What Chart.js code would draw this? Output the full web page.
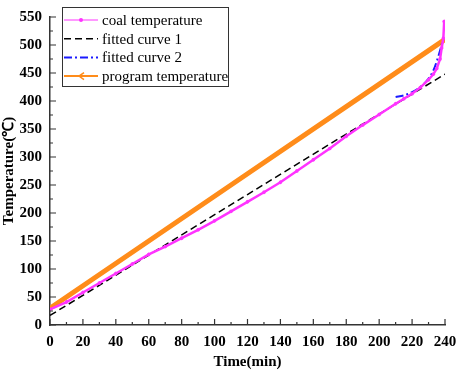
<!DOCTYPE html>
<html lang="en">
  <head>
    <meta charset="UTF-8" />
    <title>Temperature</title>
    <script src="https://cdn.jsdelivr.net/npm/chart.js@4.4.0/dist/chart.umd.min.js"></script>
    <style>
      html, body { margin: 0; padding: 0; background: #fff; }
      .chart-view { width: 457px; height: 371px; }
    </style>
  </head>
  <body>
    <div class="chart-view">
      <canvas id="chart"></canvas>
    </div>

    <script>
      //data
      const coalTime = [0, 10, 20, 30, 40, 50, 60, 70, 80, 90, 100, 110, 120, 130, 140, 150, 160, 170, 180, 190, 200, 210, 215, 220, 225, 230, 233, 235, 237, 238, 239, 239.5];
      const coalTemp = [28, 41, 58, 75, 92, 109, 126, 140, 155, 170, 186, 203, 220, 237, 255, 275, 295, 315, 337, 357, 376, 395, 404, 413, 424, 438, 448, 458, 475, 495, 512, 542];

      const fit1Time = [0, 60, 120, 180, 240];
      const fit1Temp = [17, 125, 233, 341, 448];

      const fit2Time = [210, 215, 220, 225, 230, 233, 235, 237, 238, 239];
      const fit2Temp = [407, 410, 416, 425, 440, 455, 471, 490, 501, 510];

      const progTime = [0, 60, 120, 180, 240];
      const progTemp = [30, 150, 270, 390, 510];

      const xTicks = [0, 20, 40, 60, 80, 100, 120, 140, 160, 180, 200, 220, 240];
      const yTicks = [0, 50, 100, 150, 200, 250, 300, 350, 400, 450, 500, 550];

      const pts = (xs, ys) => xs.map((x, i) => ({ x: x, y: ys[i] }));

      const COLORS = {
        coal: '#ff33ff',
        fit1: '#000000',
        fit2: '#1a1aff',
        prog: '#ff8c1a'
      };

      const serif = '"Liberation Serif", "Times New Roman", serif';

      //inward ticks on both axes
      const innerTicks = {
        id: 'innerTicks',
        afterDraw(chart) {
          const { ctx, scales: { x, y } } = chart;
          ctx.save();
          ctx.strokeStyle = '#333';
          ctx.lineWidth = 1.2;
          ctx.beginPath();
          for (let v = 0; v <= 240; v += 10) {
            const px = x.getPixelForValue(v);
            const len = v % 20 === 0 ? 6 : 3;
            ctx.moveTo(px, y.bottom);
            ctx.lineTo(px, y.bottom - len);
          }
          for (let v = 0; v <= 550; v += 25) {
            const py = y.getPixelForValue(v);
            const len = v % 50 === 0 ? 6 : 3;
            ctx.moveTo(x.left, py);
            ctx.lineTo(x.left + len, py);
          }
          ctx.stroke();
          ctx.restore();
        }
      };

      //legend box in the upper left corner of the plot
      const boxLegend = {
        id: 'boxLegend',
        afterDraw(chart) {
          const { ctx } = chart;
          const left = 62, top = 7, w = 166, h = 79;
          ctx.save();
          ctx.fillStyle = '#fff';
          ctx.fillRect(left, top, w, h);
          ctx.strokeStyle = '#333';
          ctx.lineWidth = 1;
          ctx.strokeRect(left + 0.5, top + 0.5, w, h);
          ctx.font = '15px ' + serif;
          ctx.textBaseline = 'middle';
          chart.data.datasets.forEach((ds, i) => {
            const cy = top + 13 + i * 18.7;
            ctx.strokeStyle = ds.borderColor;
            ctx.lineWidth = ds.legendWidth;
            ctx.setLineDash(ds.borderDash || []);
            ctx.beginPath();
            ctx.moveTo(left + 2, cy);
            ctx.lineTo(left + 36, cy);
            ctx.stroke();
            ctx.setLineDash([]);
            if (ds.legendMarker === 'star') {
              ctx.fillStyle = ds.borderColor;
              ctx.beginPath();
              ctx.arc(left + 19, cy, 2, 0, Math.PI * 2);
              ctx.fill();
            } else if (ds.legendMarker === 'arrow') {
              ctx.lineWidth = 1.5;
              ctx.beginPath();
              ctx.moveTo(left + 22, cy - 3.5);
              ctx.lineTo(left + 17, cy);
              ctx.lineTo(left + 22, cy + 3.5);
              ctx.stroke();
            }
            ctx.fillStyle = '#000';
            ctx.fillText(ds.label, left + 40, cy + 1);
          });
          ctx.restore();
        }
      };

      const data = {
        datasets: [
          {
            label: 'coal temperature',
            data: pts(coalTime, coalTemp),
            borderColor: COLORS.coal,
            backgroundColor: COLORS.coal,
            borderWidth: 2.5,
            pointStyle: 'star',
            pointRadius: 1.5,
            legendWidth: 1,
            legendMarker: 'star'
          },
          {
            label: 'fitted curve 1',
            data: pts(fit1Time, fit1Temp),
            borderColor: COLORS.fit1,
            borderWidth: 1.5,
            borderDash: [7, 4],
            pointRadius: 0,
            legendWidth: 1.5
          },
          {
            label: 'fitted curve 2',
            data: pts(fit2Time, fit2Temp),
            borderColor: COLORS.fit2,
            borderWidth: 2,
            borderDash: [8, 3, 2, 3],
            pointRadius: 0,
            cubicInterpolationMode: 'monotone',
            legendWidth: 2
          },
          {
            label: 'program temperature',
            data: pts(progTime, progTemp),
            borderColor: COLORS.prog,
            borderWidth: 5,
            pointRadius: 0,
            legendWidth: 2,
            legendMarker: 'arrow'
          }
        ]
      };

      //config
      const config = {
        type: 'line',
        data: data,
        options: {
          responsive: true,
          maintainAspectRatio: false,
          animation: false,
          layout: { padding: { top: 7, right: 0, left: 0, bottom: 0 } },
          elements: { line: { tension: 0 } },
          scales: {
            x: {
              type: 'linear',
              min: 0,
              max: 240,
              afterBuildTicks: (s) => { s.ticks = xTicks.map((v) => ({ value: v })); },
              afterFit: (s) => { s.height = 46; s.paddingRight = 12; },
              grid: { display: false, drawTicks: false },
              border: { display: true, color: '#333', width: 1.5 },
              ticks: {
                padding: 8,
                color: '#000',
                font: { family: serif, size: 15, weight: 'bold' }
              },
              title: {
                display: true,
                text: 'Time(min)',
                color: '#000',
                padding: { top: 0, bottom: 0 },
                font: { family: serif, size: 15, weight: 'bold' }
              }
            },
            y: {
              min: 0,
              max: 550,
              afterBuildTicks: (s) => { s.ticks = yTicks.map((v) => ({ value: v })); },
              afterFit: (s) => { s.width = 50; },
              grid: { display: false, drawTicks: false },
              border: { display: true, color: '#333', width: 1.5 },
              ticks: {
                padding: 8,
                color: '#000',
                font: { family: serif, size: 15, weight: 'bold' }
              },
              title: {
                display: true,
                text: 'Temperature(℃)',
                color: '#000',
                padding: { top: 0, bottom: 2 },
                font: { family: serif, size: 15, weight: 'bold' }
              }
            }
          },
          plugins: {
            legend: { display: false },
            tooltip: { enabled: false }
          }
        },
        plugins: [innerTicks, boxLegend]
      };

      //init
      const ctx = document.getElementById('chart');
      const chart = new Chart(ctx, config);
    </script>
  </body>
</html>
